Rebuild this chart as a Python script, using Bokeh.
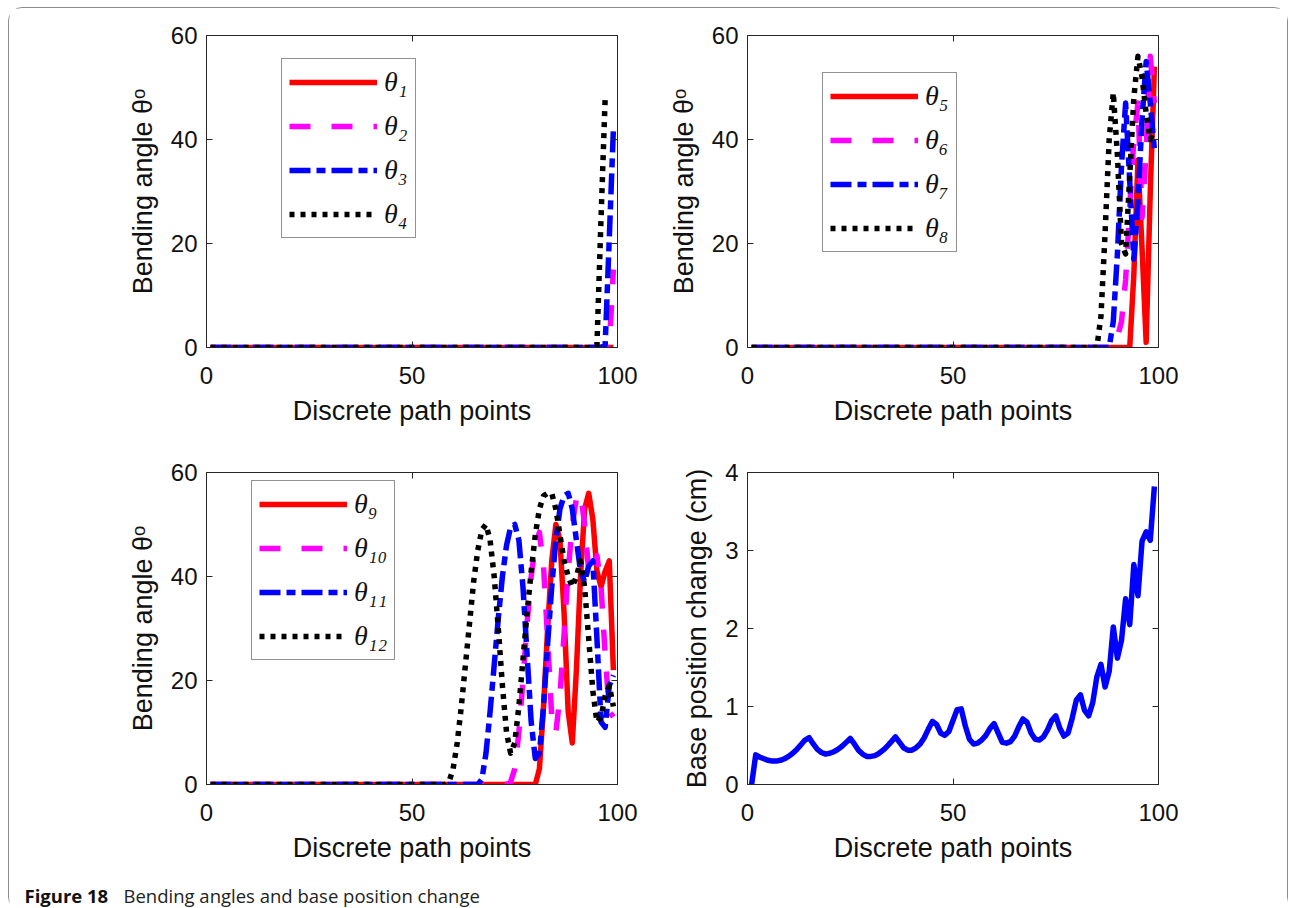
from bokeh.plotting import figure
from bokeh.models import (Range1d, FixedTicker, LinearAxis, Legend, LegendItem, Label,
                          CustomLabelingPolicy)
from bokeh.layouts import column, row
from bokeh.embed import file_html
from bokeh.resources import INLINE

# ---------------------------------------------------------------- data
path_points = list(range(1, 100))          # discrete path point index 1..99

# joints 1-4
theta1 = [0.0] * 99
theta2 = [0.0] * 97 + [0.0, 15.0]
theta3 = [0.0] * 96 + [0.5, 21.0, 42.0]
theta4 = [0.0] * 94 + [0.5, 25.0, 48.0, float("nan"), float("nan")]

# joints 5-8
theta5 = [0.0] * 93 + [14.0, 36.0, 19.0, 1.0, 30.0, 54.0]
theta6 = [0.0] * 89 + [2.0, 5.0, 13.0, 27.0, 40.0, 47.0, 25.0, 38.0, 56.0, 47.0]
theta7 = [0.0] * 88 + [5.0, 18.0, 35.0, 47.0, 32.0, 17.0, 28.0, 44.0, 55.0, 47.0, 38.0]
theta8 = [0.0] * 85 + [6.0, 22.0, 40.0, 49.0, 37.0, 20.0, 18.0, 33.0, 48.0, 56.0,
                       52.0, 45.0, 40.0, 42.0]

# joints 9-12
theta9 = [0.0] * 80 + [3.0, 15.0, 30.0, 43.0, 50.0, 47.0, 33.0, 14.0, 8.0, 22.0,
                       40.0, 53.0, 56.0, 51.0, 41.0, 38.0, 41.0, 43.0, 22.0]
theta10 = [0.0] * 73 + [0.5, 3.0, 10.0, 20.0, 31.0, 40.0, 46.0, 48.5, 42.0, 28.0,
                        13.0, 10.0, 17.0, 29.0, 41.0, 50.0, 55.0, 56.0, 50.0, 41.0,
                        40.0, 44.0, 38.0, 25.0, 14.0, 13.0]
theta11 = [0.0] * 66 + [1.0, 6.0, 14.0, 23.0, 32.0, 40.0, 46.0, 49.5, 50.0, 47.0,
                        38.0, 25.0, 12.0, 5.0, 6.0, 15.0, 27.0, 38.0, 47.0, 53.0,
                        55.5, 56.0, 53.0, 47.0, 41.0, 39.0, 42.0, 43.0, 28.0, 12.0,
                        11.0, 19.0, 21.0]
theta12 = [0.0] * 58 + [0.5, 3.0, 8.0, 15.0, 23.0, 31.0, 39.0, 45.0, 49.0, 50.0,
                        47.0, 40.0, 30.0, 19.0, 10.0, 6.0, 8.0, 15.0, 24.0, 33.0,
                        41.0, 48.0, 53.0, 55.5, 56.0, 56.0, 53.0, 48.0, 43.0, 40.0,
                        38.0, 40.0, 43.0, 38.0, 28.0, 18.0, 12.0, 13.0, 17.0, 19.0,
                        15.0]

# base position change (cm)
base_change = [0.00, 0.38, 0.35, 0.33, 0.31, 0.30, 0.30, 0.31, 0.33, 0.36,
               0.40, 0.45, 0.51, 0.57, 0.60, 0.52, 0.45, 0.41, 0.39, 0.40,
               0.42, 0.45, 0.49, 0.54, 0.59, 0.52, 0.44, 0.39, 0.36, 0.36,
               0.37, 0.40, 0.44, 0.49, 0.55, 0.61, 0.54, 0.47, 0.44, 0.44,
               0.47, 0.52, 0.60, 0.71, 0.81, 0.77, 0.66, 0.63, 0.68, 0.82,
               0.96, 0.97, 0.75, 0.58, 0.52, 0.53, 0.57, 0.63, 0.72, 0.78,
               0.66, 0.54, 0.53, 0.55, 0.62, 0.74, 0.84, 0.80, 0.66, 0.58,
               0.57, 0.61, 0.70, 0.82, 0.88, 0.72, 0.62, 0.66, 0.85, 1.08,
               1.15, 0.95, 0.88, 1.05, 1.38, 1.54, 1.25, 1.45, 2.02, 1.62,
               1.85, 2.38, 2.05, 2.82, 2.42, 3.12, 3.24, 3.13, 3.82]

x_ticks = [0, 50, 100]
angle_ticks = [0, 20, 40, 60]
base_ticks = [0, 1, 2, 3, 4]

# ---------------------------------------------------------------- styles
AXIS_COLOR = "#262626"
TICK_FONT = "Liberation Sans"
LINE_W = 5.5
STYLES = [
    dict(color="#ff0000", dash="solid"),
    dict(color="#ff00ff", dash="21 21"),
    dict(color="#0000ff", dash="21 6 9 6"),
    dict(color="#000000", dash="5 6"),
]

# mirrored box axes carry tick marks only
NO_LABELS = CustomLabelingPolicy(code="""
for (const i of [...indices]) indices.unset(i)
return indices
""")


def style_axis(ax, labels=True):
    ax.axis_line_color = AXIS_COLOR
    ax.axis_line_width = 1
    ax.major_tick_line_color = AXIS_COLOR
    ax.major_tick_in = 6
    ax.major_tick_out = 0
    ax.minor_tick_line_color = None
    ax.major_label_text_font = TICK_FONT
    ax.major_label_text_color = "#111111"
    ax.major_label_text_font_size = "24px"
    ax.axis_label_text_font = TICK_FONT
    ax.axis_label_text_font_style = "normal"
    ax.axis_label_text_font_size = "27px"
    ax.axis_label_text_color = "#111111"
    if not labels:
        ax.major_label_policy = NO_LABELS
        ax.major_label_standoff = 0


def make_panel(width, height, left, right, top, bottom, y_max, y_ticks, y_label):
    p = figure(width=width, height=height, output_backend="svg", toolbar_location=None,
               x_range=Range1d(0, 100), y_range=Range1d(0, y_max),
               min_border_left=left, min_border_right=right,
               min_border_top=top, min_border_bottom=bottom,
               x_axis_label="Discrete path points", y_axis_label=y_label)
    p.grid.visible = False
    p.outline_line_color = None
    p.background_fill_color = "white"
    p.border_fill_color = "white"
    p.xaxis.ticker = FixedTicker(ticks=x_ticks)
    p.yaxis.ticker = FixedTicker(ticks=y_ticks)
    for ax in p.xaxis:
        style_axis(ax)
        ax.major_label_standoff = 19
        ax.axis_label_standoff = 9
    for ax in p.yaxis:
        style_axis(ax)
        ax.major_label_standoff = 9
        ax.axis_label_standoff = 10
    top_ax = LinearAxis(ticker=FixedTicker(ticks=x_ticks))
    right_ax = LinearAxis(ticker=FixedTicker(ticks=y_ticks))
    style_axis(top_ax, labels=False)
    style_axis(right_ax, labels=False)
    p.add_layout(top_ax, "above")
    p.add_layout(right_ax, "right")
    return p


def add_joint_lines(p, series, names, loc):
    items = []
    for vals, name, st in zip(series, names, STYLES):
        r = p.line(path_points, vals, line_color=st["color"], line_width=LINE_W,
                   line_dash=st["dash"], line_cap="butt", line_join="round")
        items.append(LegendItem(label=name, renderers=[r]))
    leg = Legend(items=items, location=loc, glyph_width=88, glyph_height=30,
                 label_height=30, spacing=12, padding=7, margin=0, label_standoff=7,
                 border_line_color=AXIS_COLOR, border_line_width=1,
                 background_fill_color="white", background_fill_alpha=1,
                 label_text_font="Liberation Serif", label_text_font_style="italic",
                 label_text_font_size="28px", label_text_color="#111111")
    p.add_layout(leg)


ANGLE_LABEL = "Bending angle θᵒ"

p1 = make_panel(640, 440, 197, 32, 27, 101, 60, angle_ticks, ANGLE_LABEL)
add_joint_lines(p1, [theta1, theta2, theta3, theta4], ["θ₁", "θ₂", "θ₃", "θ₄"], (75, 109))

p2 = make_panel(638, 440, 98, 129, 27, 101, 60, angle_ticks, ANGLE_LABEL)
add_joint_lines(p2, [theta5, theta6, theta7, theta8], ["θ₅", "θ₆", "θ₇", "θ₈"], (75, 95))

p3 = make_panel(640, 420, 197, 32, 24, 84, 60, angle_ticks, ANGLE_LABEL)
add_joint_lines(p3, [theta9, theta10, theta11, theta12], ["θ₉", "θ₁₀", "θ₁₁", "θ₁₂"], (45, 124))

p4 = make_panel(638, 420, 98, 129, 24, 84, 4, base_ticks, "Base position change (cm)")
p4.line(path_points, base_change, line_color="#0000ff", line_width=LINE_W, line_join="round")

# caption strip
cap = figure(width=1278, height=42, output_backend="svg", toolbar_location=None,
             x_range=Range1d(0, 1278), y_range=Range1d(0, 42),
             min_border=0, min_border_left=0, min_border_right=0,
             min_border_top=0, min_border_bottom=0)
cap.axis.visible = False
cap.grid.visible = False
cap.outline_line_color = None
cap.add_layout(Label(x=15, y=15, x_units="screen", y_units="screen", text="Figure 18",
                     text_font="Open Sans", text_font_style="bold", text_font_size="18.5px",
                     text_color="#111111", text_baseline="alphabetic"))
cap.add_layout(Label(x=114, y=15, x_units="screen", y_units="screen",
                     text="Bending angles and base position change",
                     text_font="Open Sans", text_font_size="18.5px",
                     text_color="#222222", text_baseline="alphabetic"))

page = column(row(p1, p2), row(p3, p4), cap,
              styles={"border": "1px solid #8c8c8c", "border-radius": "14px",
                      "margin": "7px 0 0 8px"})

open("out.html", "w").write(file_html(page, INLINE))
